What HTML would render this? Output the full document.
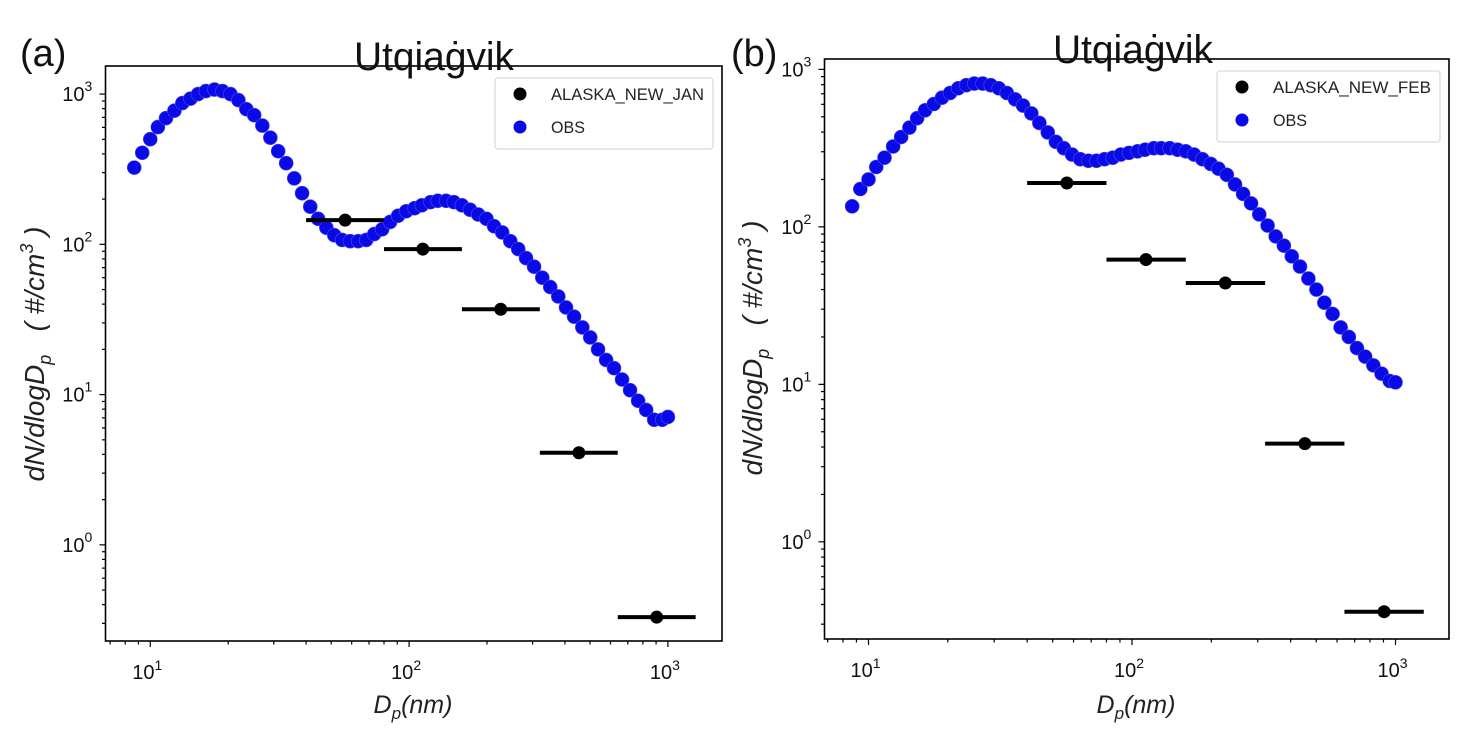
<!DOCTYPE html>
<html><head><meta charset="utf-8"><style>
html,body{margin:0;padding:0;background:#fff;}
svg{display:block;font-family:"Liberation Sans",sans-serif;}
</style></head><body>
<svg id="chart" width="1463" height="743" viewBox="0 0 1463 743" xmlns="http://www.w3.org/2000/svg"></svg>
<script>
const dp = [8.67,9.31,10.0,10.7,11.5,12.4,13.3,14.3,15.3,16.4,17.7,19.0,20.4,21.9,23.5,25.2,27.1,29.1,31.2,33.5,36.0,38.6,41.5,44.5,47.9,51.4,55.1,59.2,63.6,68.3,73.3,78.7,84.5,90.7,97.4,105,112,121,129,139,149,160,172,185,199,213,229,246,264,283,304,327,351,377,404,434,467,501,537,577,619,665,714,767,824,885,951,1000];
const obsJan = [324,407,501,603,692,776,871,933,1000,1047,1072,1047,1000,912,794,724,617,513,417,347,275,219,178,148,129,115,107,105,105,107,117,126,141,155,166,174,182,191,195,195,191,182,170,158,148,132,120,105,93,81,71,60,52,45,38,33,28,24,20,17,15,12.6,10.7,9.1,7.9,6.8,6.8,7.1];
const obsFeb = [135,174,200,240,275,324,372,427,490,550,603,661,708,759,794,813,813,794,759,708,646,589,525,457,398,347,316,288,269,263,263,269,275,288,295,302,309,316,316,316,309,302,288,269,251,234,214,186,162,141,120,102,87,76,65,56,47,40,33,28,23,20,17,15,13.2,11.7,10.5,10.3];
const binLo = [40,80,160,320,640];
const binHi = [80,160,320,640,1280];
const binMid = [56.6,113,226,453,905];
const modelJan = [145,93,37,4.1,0.33];
const modelFeb = [190,62,44,4.2,0.36];
const yTickLabels = ["0","1","2","3"];
const xTickLabels = ["1","2","3"];

const NS="http://www.w3.org/2000/svg";
const svg=document.getElementById('chart');
function mk(tag,attrs,parent){const e=document.createElementNS(NS,tag);for(const k in attrs)e.setAttribute(k,attrs[k]);(parent||svg).appendChild(e);return e;}

function panel(p){
  const g=mk('g',{});
  
  
  const xs=v=>p.L+(Math.log10(v)-p.x0)/(p.x1-p.x0)*(p.R-p.L);
  const ys=v=>p.B-(Math.log10(v)-p.y0)/(p.y1-p.y0)*(p.B-p.T);
  const og=mk('g',{},g);
  
  
  for(let i=0;i<dp.length;i++){
    const c=mk('circle',{cx:xs(dp[i]),cy:ys(p.obs[i]),r:7,fill:'#0a0ae6',stroke:'#4b4bf0','stroke-width':0.6},og);
    
    
  }
  const mg=mk('g',{},g);
  
  
  for(let i=0;i<binMid.length;i++){
    const l=mk('line',{x1:xs(binLo[i]),x2:xs(binHi[i]),y1:ys(p.model[i]),y2:ys(p.model[i]),stroke:'#000','stroke-width':4},mg);
    
    
    const c=mk('circle',{cx:xs(binMid[i]),cy:ys(p.model[i]),r:6.5,fill:'#000'},mg);
    
    
  }
  const fr=mk('rect',{x:p.L,y:p.T,width:p.R-p.L,height:p.B-p.T,fill:'none',stroke:'#000','stroke-width':1.6},g);
  
  
  for(let d=0;d<=3;d++){
    for(let m=1;m<10;m++){
      const v=m*Math.pow(10,d); const lv=Math.log10(v);
      if(lv<p.x0||lv>p.x1)continue;
      mk('line',{x1:xs(v),x2:xs(v),y1:p.B,y2:p.B+(m===1?6:3.5),stroke:'#000','stroke-width':1.2},g);
    }
  }
  xTickLabels.forEach(e=>{
    const t=mk('text',{x:xs(Math.pow(10,+e))-3,y:p.B+38,'text-anchor':'middle','font-size':20,fill:'#111'},g);
    
    
    t.innerHTML='10<tspan dy="-9" font-size="14">'+e+'</tspan>';
  });
  for(let d=-1;d<=3;d++){
    for(let m=1;m<10;m++){
      const v=m*Math.pow(10,d); const lv=Math.log10(v);
      if(lv<p.y0||lv>p.y1)continue;
      mk('line',{x1:p.L,x2:p.L-(m===1?6:3.5),y1:ys(v),y2:ys(v),stroke:'#000','stroke-width':1.2},g);
    }
  }
  yTickLabels.forEach(e=>{
    const t=mk('text',{x:p.L-21,y:ys(Math.pow(10,+e))+7,'text-anchor':'end','font-size':20,fill:'#111'},g);
    
    
    t.textContent='10';
    const s=mk('text',{x:p.L-21,y:ys(Math.pow(10,+e))-3,'font-size':14,fill:'#111'},g);
    s.textContent=e;
  });
  const lg=mk('g',{},g);
  
  
  mk('rect',{x:p.lx,y:p.ly,width:p.lw,height:71,rx:3,fill:'#fff',stroke:'#d0d0d0','stroke-width':1},lg);
  const e1=mk('circle',{cx:p.lx+25,cy:p.ly+16,r:6.5,fill:'#000'},lg);
  
  
  const t1=mk('text',{x:p.lx+56,y:p.ly+22,'font-size':17,fill:'#222',textLength:p.tl,lengthAdjust:'spacingAndGlyphs'},lg);
  t1.textContent=p.label;
  
  
  const e2=mk('circle',{cx:p.lx+25,cy:p.ly+49,r:6.5,fill:'#0a0ae6'},lg);
  
  
  const t2=mk('text',{x:p.lx+56,y:p.ly+55,'font-size':17,fill:'#222',textLength:34,lengthAdjust:'spacingAndGlyphs'},lg);
  t2.textContent='OBS';
  
  
  const ti=mk('text',{x:p.tx,y:p.ty,'text-anchor':'middle','font-size':40,fill:'#111',textLength:160,lengthAdjust:'spacingAndGlyphs'},g);
  ti.textContent='Utqiaġvik';
  
  
  const pl=mk('text',{x:p.px,y:66,'font-size':38,fill:'#111'},g);
  pl.textContent=p.panelLabel;
  
  
  const xt=mk('text',{x:p.xlx,y:713,'text-anchor':'middle','font-size':25,'font-style':'italic',fill:'#222'},g);
  xt.innerHTML='D<tspan dy="6" font-size="17">p</tspan><tspan dy="-6">(nm)</tspan>';
  
  
  const yt=mk('text',{x:0,y:0,'text-anchor':'middle','font-size':28,'font-style':'italic',fill:'#222',transform:'translate('+p.ylx+','+p.yly+') rotate(-90)'},g);
  yt.innerHTML='dN/dlogD<tspan dy="7" font-size="18">p</tspan><tspan dy="-7" xml:space="preserve">   ( #/cm</tspan><tspan dy="-11" font-size="18">3</tspan><tspan dy="11"> )</tspan>';
  
  
}

panel({name:'panel-a-jan',L:105.5,R:722,T:66,B:641,x0:0.827,x1:3.209,y0:-0.64,y1:3.187,obs:obsJan,model:modelJan,
  lx:495,ly:78,lw:218,tl:153,label:'ALASKA_NEW_JAN',tx:434,ty:70,px:20,panelLabel:'(a)',xlx:413,ylx:44,yly:354});
panel({name:'panel-b-feb',L:824.5,R:1449,T:59,B:639,x0:0.833,x1:3.203,y0:-0.617,y1:3.066,obs:obsFeb,model:modelFeb,
  lx:1217,ly:71,lw:223,tl:158,label:'ALASKA_NEW_FEB',tx:1133,ty:63,px:731,panelLabel:'(b)',xlx:1136,ylx:762,yly:348});
</script>
</body></html>
